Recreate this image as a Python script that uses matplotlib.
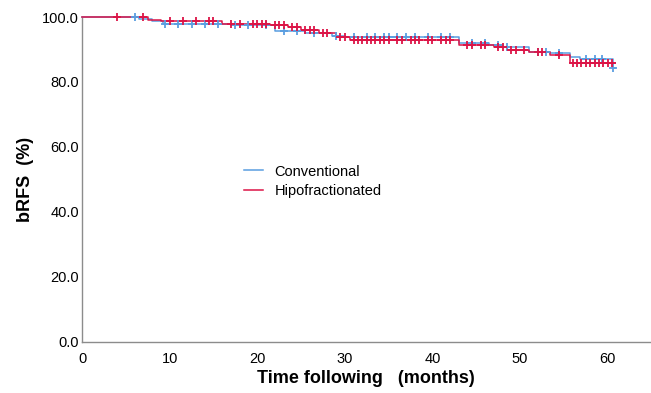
import numpy as np
import matplotlib.pyplot as plt

plt.rcParams['font.family'] = ['Liberation Sans', 'DejaVu Sans']

# Kaplan-Meier steps (time in months, survival %)
conv_t = [0, 6.5, 8.0, 9.3, 17.0, 22.0, 25.5, 28.5, 30.0, 43.0, 46.5, 48.0, 51.0, 53.4, 55.7, 56.8, 60.6]
conv_s = [100, 99.5, 98.8, 97.9, 97.5, 95.8, 95.0, 94.2, 93.8, 92.0, 91.5, 90.9, 89.3, 88.8, 87.8, 87.0, 84.4]
conv_end = 60.8
conv_cens = [6.0, 9.5, 11.0, 12.5, 14.0, 15.5, 17.5, 19.0, 21.0, 23.0, 24.5, 26.5, 29.0,
             31.0, 32.5, 33.5, 34.5, 35.0, 36.0, 37.0, 38.0, 39.5, 41.0, 42.0, 44.5, 46.0,
             47.5, 48.5, 52.0, 53.0, 54.5, 57.5, 58.5, 59.3, 60.6]

hipo_t = [0, 7.5, 9.0, 16.0, 21.5, 23.5, 25.0, 27.0, 29.0, 30.6, 43.0, 47.0, 48.5, 51.0, 53.4, 55.7]
hipo_s = [100, 99.0, 98.7, 98.0, 97.4, 96.8, 96.0, 95.2, 93.8, 92.8, 91.4, 90.8, 90.0, 89.2, 88.2, 86.0]
hipo_end = 60.8
hipo_cens = [4.0, 7.0, 10.0, 11.5, 13.0, 14.5, 15.0, 17.0, 18.0, 19.5, 20.0, 20.5, 21.0,
             22.0, 22.5, 23.0, 24.0, 24.5, 25.5, 26.0, 26.5, 27.5, 28.0, 29.5, 30.0,
             31.0, 31.5, 32.0, 32.5, 33.0, 33.5, 34.0, 34.5, 35.0, 36.0, 36.5, 37.5, 38.0,
             38.5, 39.5, 40.0, 41.0, 41.5, 42.0, 44.0, 44.5, 45.5, 46.0, 47.5, 48.0, 49.0,
             49.5, 50.5, 52.0, 52.5, 54.5, 56.0, 56.5, 57.0, 57.5, 58.0, 58.5, 59.0, 59.5,
             60.0, 60.5]

blue = '#5a9ee0'
red = '#dc1446'


def km_value(t, times, surv):
    idx = np.searchsorted(times, t, side='right') - 1
    return np.array(surv)[idx]


fig = plt.figure(figsize=(6.51, 3.93), dpi=100)
ax = fig.add_axes([0.126, 0.13, 0.872, 0.8267])

for times, surv, end, cens, col, lab in [
        (conv_t, conv_s, conv_end, conv_cens, blue, 'Conventional'),
        (hipo_t, hipo_s, hipo_end, hipo_cens, red, 'Hipofractionated')]:
    x = list(times) + [end]
    y = list(surv) + [surv[-1]]
    ax.step(x, y, where='post', color=col, lw=1.1, label=lab, clip_on=False, zorder=3)
    ax.plot(cens, km_value(np.array(cens), times, surv), '+', color=col, ms=6,
            mew=1.3, clip_on=False, zorder=4)

ax.set_xlim(0, 64.8)
ax.set_ylim(0, 100)
ax.set_xticks(range(0, 70, 10))
ax.set_yticks(range(0, 120, 20))
ax.set_yticklabels([f'{v:.1f}' for v in range(0, 120, 20)])
ax.tick_params(length=0, labelsize=10.5, pad=2)
ax.tick_params(axis='x', pad=7)

for s in ['top', 'right']:
    ax.spines[s].set_visible(False)
for s in ['left', 'bottom']:
    ax.spines[s].set_color('#8c8c8c')
    ax.spines[s].set_linewidth(1.0)

ax.set_xlabel('Time following   (months)', fontsize=13, fontweight='bold', labelpad=3)
ax.set_ylabel('bRFS  (%)', fontsize=13, fontweight='bold', labelpad=6)

ax.legend(loc='center left', bbox_to_anchor=(0.262, 0.495), frameon=False,
          fontsize=10.5, handlelength=1.3, handletextpad=0.8, labelspacing=0.35)

fig.savefig('out.png', dpi=100)
